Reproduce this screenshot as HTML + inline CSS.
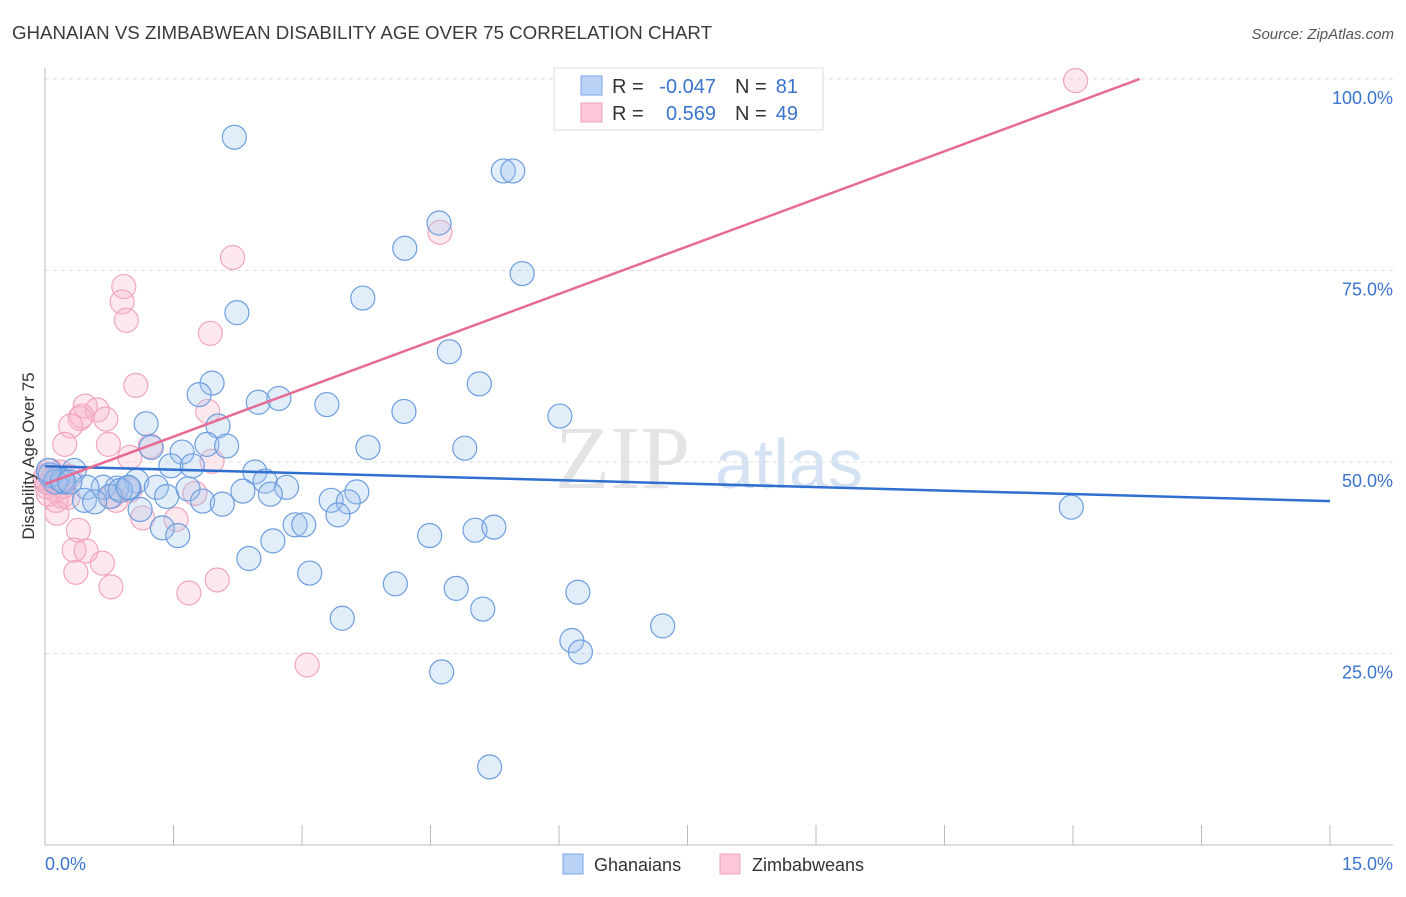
<!DOCTYPE html>
<html><head><meta charset="utf-8"><style>
body{margin:0;background:#fff;font-family:"Liberation Sans",sans-serif}
</style></head><body>
<svg id="chart" width="1406" height="892" xmlns="http://www.w3.org/2000/svg" style="font-family:'Liberation Sans',sans-serif">
<text x="12" y="39" font-size="18" fill="#3a3a3a" textLength="700" lengthAdjust="spacingAndGlyphs">GHANAIAN VS ZIMBABWEAN DISABILITY AGE OVER 75 CORRELATION CHART</text>
<text x="1394" y="39" font-size="15" fill="#555" text-anchor="end" font-style="italic">Source: ZipAtlas.com</text>
<g><text x="555" y="488" font-size="90" fill="#e4e4e4" font-family="Liberation Serif,serif">ZIP</text><text x="715" y="488" font-size="70" fill="#d4e2f4">atlas</text></g>
<g id="grid"></g>
<g id="axes"></g>
<g id="pts"></g>
<g id="trends"></g>
<text transform="translate(34,456) rotate(-90)" font-size="17" fill="#333" text-anchor="middle">Disability Age Over 75</text>
<g font-size="20">
<rect x="554" y="68" width="269" height="62" fill="#fff" stroke="#ddd"/>
<rect x="581" y="76" width="21" height="19" fill="#b9d2f5" stroke="#7aa6e6"/>
<rect x="581" y="103" width="21" height="19" fill="#fcc8d8" stroke="#f0a0b8"/>
<text x="612" y="93" fill="#333">R =</text>
<text x="716" y="93" fill="#3a74cf" text-anchor="end">-0.047</text>
<text x="735" y="93" fill="#333">N =</text>
<text x="798" y="93" fill="#3a74cf" text-anchor="end">81</text>
<text x="612" y="120" fill="#333">R =</text>
<text x="716" y="120" fill="#3a74cf" text-anchor="end">0.569</text>
<text x="735" y="120" fill="#333">N =</text>
<text x="798" y="120" fill="#3a74cf" text-anchor="end">49</text>
</g>
<g>
<rect x="563" y="854" width="20" height="20" fill="#b9d2f5" stroke="#7aa6e6"/>
<text x="594" y="871" font-size="18" fill="#333">Ghanaians</text>
<rect x="720" y="854" width="20" height="20" fill="#fcc8d8" stroke="#f0a0b8"/>
<text x="752" y="871" font-size="18" fill="#333">Zimbabweans</text>
</g>
</svg>
<script>
const yTicks=[25,50,75,100];
const yTickLabels=["25.0%","50.0%","75.0%","100.0%"];
const xTickCount=10;
const blueX=[2.21,5.35,5.46,4.60,4.20,5.57,3.71,2.24,4.72,1.95,5.07,1.80,2.49,2.73,3.29,4.19,6.01,1.18,2.02,1.24,1.89,2.12,3.77,4.90,1.60,1.47,1.72,2.45,0.34,0.15,0.22,1.07,2.57,1.30,1.67,2.31,2.82,3.64,0.68,0.84,0.98,0.49,1.42,2.63,3.34,3.54,0.76,0.46,0.58,1.84,2.07,1.11,3.42,11.98,1.37,1.55,2.92,3.02,5.02,5.24,4.49,2.66,2.38,3.09,4.09,4.80,6.22,5.11,3.47,7.21,6.15,6.25,4.63,5.19,0.06,0.12,0.20,0.29,0.88,0.97,0.04];
const blueY=[92.4,88.0,88.0,81.2,77.9,74.6,71.4,69.5,64.4,60.3,60.2,58.8,57.8,58.3,57.5,56.6,56.0,55.0,54.7,51.9,52.3,52.1,51.9,51.8,51.3,49.5,49.5,48.7,48.9,47.9,47.4,47.5,47.5,46.7,46.5,46.2,46.7,46.1,46.7,46.6,46.6,46.7,45.5,45.8,45.0,44.8,45.5,45.0,44.8,44.9,44.5,43.8,43.1,44.1,41.4,40.4,41.8,41.8,41.1,41.5,40.4,39.7,37.4,35.5,34.1,33.5,33.0,30.8,29.6,28.6,26.7,25.2,22.6,10.2,48.3,47.4,47.6,47.4,46.3,46.7,48.9];
const pinkX=[12.03,4.61,2.19,0.92,0.90,0.95,1.93,1.06,1.90,0.47,0.61,0.41,0.43,0.71,0.30,0.23,0.74,1.23,0.99,1.95,0.18,0.29,0.08,0.12,0.20,0.04,0.27,1.75,0.83,0.99,0.14,1.14,1.53,0.39,0.34,0.48,0.67,0.36,2.01,0.77,1.68,3.06,0.06,0.02,0.15,0.00,0.21,0.13,0.78];
const pinkY=[99.8,80.0,76.7,72.9,70.9,68.5,66.8,60.0,56.6,57.3,56.8,55.7,56.0,55.6,54.7,52.3,52.3,52.1,50.6,50.1,48.7,48.1,47.6,46.3,45.5,45.8,45.4,45.9,45.0,46.3,43.3,42.7,42.5,41.1,38.5,38.4,36.8,35.6,34.6,33.7,32.9,23.5,48.9,46.8,47.4,47.9,46.8,45.0,45.5];
const blueTrend=[49.45,44.9];
const pinkTrend=[47.1,4.14];
const NS="http://www.w3.org/2000/svg";
const X0=45,X1=1330,Y0=845,Y100=79;
const sx=v=>X0+v/15*(X1-X0), sy=v=>Y0-v/100*(Y0-Y100);
function mk(t,a,p){const e=document.createElementNS(NS,t);for(const k in a)e.setAttribute(k,a[k]);p.appendChild(e);return e;}
const grid=document.getElementById('grid'),axes=document.getElementById('axes'),pts=document.getElementById('pts'),tr=document.getElementById('trends');
yTicks.forEach((t,i)=>{
 const l=mk('line',{x1:X0,x2:1393,y1:sy(t),y2:sy(t),stroke:'#ddd','stroke-dasharray':'4,4'},grid);
 
 
 const tx=mk('text',{x:1393,y:sy(t)+25,'font-size':18,fill:'#3a74cf','text-anchor':'end'},axes);
 tx.textContent=yTickLabels[i];
 
 
});
mk('line',{x1:X0,x2:X0,y1:68,y2:Y0,stroke:'#bbb'},axes);
mk('line',{x1:X0,x2:1393,y1:Y0,y2:Y0,stroke:'#bbb'},axes);
for(let i=0;i<=xTickCount;i++){const x=sx(i*15/xTickCount);const t=mk('line',{x1:x,x2:x,y1:825,y2:Y0,stroke:'#bbb'},axes);
 
 }
const xl=mk('text',{x:45,y:870,'font-size':18,fill:'#3a74cf'},axes);xl.textContent='0.0%';
const xr=mk('text',{x:1393,y:870,'font-size':18,fill:'#3a74cf','text-anchor':'end'},axes);xr.textContent='15.0%';
function dot(x,y,r,fill,stroke,name){const c=mk('circle',{cx:sx(x),cy:sy(y),r:r,fill:fill,stroke:stroke,'stroke-width':1.2},pts);
 
 }
dot(0.05,47.8,16,'rgba(190,160,210,0.35)','#b09ad0','cluster-point');
pinkX.forEach((x,i)=>dot(x,pinkY[i],12,'rgba(248,180,200,0.3)','#f2a6be','zimbabwean-point'));
blueX.forEach((x,i)=>dot(x,blueY[i],12,'rgba(160,196,240,0.3)','#6d9ee0','ghanaian-point'));
const bl=mk('line',{x1:sx(0),y1:sy(blueTrend[0]),x2:sx(15),y2:sy(blueTrend[1]),stroke:'#2f6fd0','stroke-width':2.5},tr);


const pxEnd=(100-pinkTrend[0])/pinkTrend[1];
const pl=mk('line',{x1:sx(0),y1:sy(pinkTrend[0]),x2:sx(pxEnd),y2:sy(100),stroke:'#e66a94','stroke-width':2.5},tr);


</script>
</body></html>
